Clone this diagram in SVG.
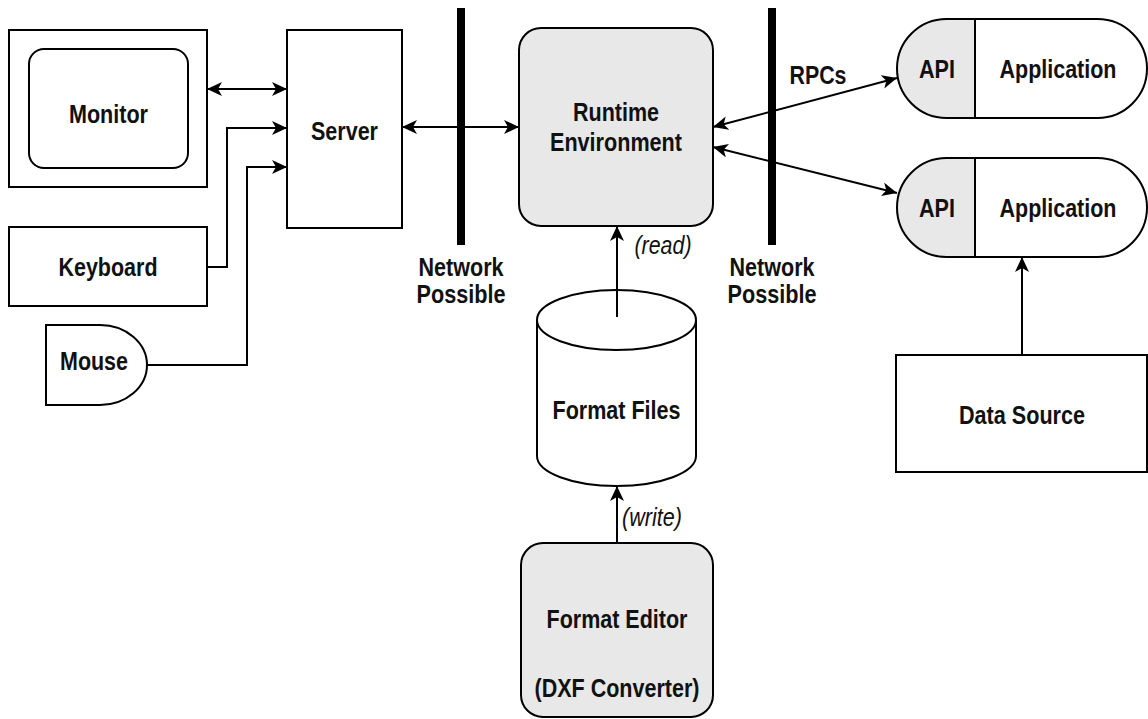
<svg xmlns="http://www.w3.org/2000/svg" width="1148" height="719" viewBox="0 0 1148 719">
<style>
.s{fill:none;stroke:#000;stroke-width:2}
.w{fill:#fff;stroke:#000;stroke-width:2}
.g{fill:#e8e8e8;stroke:#000;stroke-width:2}
.t{font-family:"Liberation Sans",Arial,sans-serif;font-weight:bold;font-size:25px;fill:#111;text-anchor:middle}
.i{font-family:"Liberation Sans",Arial,sans-serif;font-style:italic;font-size:25px;fill:#111;text-anchor:middle}
.c{fill:none;stroke:#000;stroke-width:2}
</style>
<defs>
<marker id="a" markerUnits="userSpaceOnUse" markerWidth="15" markerHeight="14" viewBox="0 0 15 14" refX="15" refY="7" orient="auto-start-reverse">
<path d="M0,0 L15,7 L0,14 L4,7 Z" fill="#000"/>
</marker>
</defs>
<rect width="1148" height="719" fill="#fff"/>

<g id="monitor">
<rect class="w" x="9" y="30" width="198" height="157"/>
<rect class="w" x="29" y="49" width="159" height="119" rx="15"/>
<text class="t" x="108.5" y="123" textLength="79" lengthAdjust="spacingAndGlyphs">Monitor</text>
</g>
<g id="server">
<rect class="w" x="287" y="30" width="115" height="198"/>
<text class="t" x="344.5" y="140" textLength="67" lengthAdjust="spacingAndGlyphs">Server</text>
</g>
<g id="keyboard">
<rect class="w" x="9" y="227" width="198" height="79"/>
<text class="t" x="108" y="276" textLength="99" lengthAdjust="spacingAndGlyphs">Keyboard</text>
</g>
<g id="mouse">
<path class="w" d="M46,325 H100 A47,40 0 0 1 100,405 H46 Z"/>
<text class="t" x="94" y="370" textLength="68" lengthAdjust="spacingAndGlyphs">Mouse</text>
</g>
<g id="network1">
<rect x="457" y="8" width="8" height="237" fill="#000"/>
<text class="t" x="461" y="276" textLength="85" lengthAdjust="spacingAndGlyphs">Network</text>
<text class="t" x="461" y="303" textLength="89" lengthAdjust="spacingAndGlyphs">Possible</text>
</g>
<g id="network2">
<rect x="768" y="8" width="8" height="237" fill="#000"/>
<text class="t" x="772" y="276" textLength="85" lengthAdjust="spacingAndGlyphs">Network</text>
<text class="t" x="772" y="303" textLength="89" lengthAdjust="spacingAndGlyphs">Possible</text>
</g>
<g id="runtime">
<rect class="g" x="519" y="28" width="194" height="198" rx="22"/>
<text class="t" x="616" y="121" textLength="86" lengthAdjust="spacingAndGlyphs">Runtime</text>
<text class="t" x="616" y="151" textLength="132" lengthAdjust="spacingAndGlyphs">Environment</text>
</g>
<g id="formatfiles">
<path class="w" d="M537,320 A79.5,30 0 0 1 696,320 V456 A79.5,30 0 0 1 537,456 Z"/>
<path class="s" d="M537,320 A79.5,30 0 0 0 696,320"/>
<text class="t" x="616.5" y="419" textLength="128" lengthAdjust="spacingAndGlyphs">Format Files</text>
</g>
<g id="formateditor">
<rect class="g" x="521" y="543" width="192" height="174" rx="22"/>
<text class="t" x="617" y="628" textLength="141" lengthAdjust="spacingAndGlyphs">Format Editor</text>
<text class="t" x="617" y="697" textLength="165" lengthAdjust="spacingAndGlyphs">(DXF Converter)</text>
</g>
<g id="app1">
<path class="g" d="M975,19 H946.5 A49.5,49.5 0 0 0 946.5,118 H975 Z"/>
<path class="w" d="M975,19 H1097.5 A49.5,49.5 0 0 1 1097.5,118 H975 Z"/>
<text class="t" x="937" y="78" textLength="36" lengthAdjust="spacingAndGlyphs">API</text>
<text class="t" x="1058" y="78" textLength="117" lengthAdjust="spacingAndGlyphs">Application</text>
</g>
<g id="app2">
<path class="g" d="M975,158 H946.5 A49.5,49.5 0 0 0 946.5,257 H975 Z"/>
<path class="w" d="M975,158 H1097.5 A49.5,49.5 0 0 1 1097.5,257 H975 Z"/>
<text class="t" x="937" y="217" textLength="36" lengthAdjust="spacingAndGlyphs">API</text>
<text class="t" x="1058" y="217" textLength="117" lengthAdjust="spacingAndGlyphs">Application</text>
</g>
<g id="datasource">
<rect class="w" x="896" y="355" width="251" height="117"/>
<text class="t" x="1022" y="424" textLength="126" lengthAdjust="spacingAndGlyphs">Data Source</text>
</g>

<g id="connectors">
<line class="c" x1="207" y1="89" x2="287" y2="89" marker-start="url(#a)" marker-end="url(#a)"/>
<polyline class="c" points="207,267 227,267 227,128 287,128" marker-end="url(#a)"/>
<polyline class="c" points="147,365 247,365 247,167 287,167" marker-end="url(#a)"/>
<line class="c" x1="402" y1="127" x2="519" y2="127" marker-start="url(#a)" marker-end="url(#a)"/>
<line class="c" x1="713" y1="127" x2="897" y2="78" marker-start="url(#a)" marker-end="url(#a)"/>
<line class="c" x1="713" y1="147" x2="897" y2="193" marker-start="url(#a)" marker-end="url(#a)"/>
<line class="c" x1="617" y1="317" x2="617" y2="226" marker-end="url(#a)"/>
<line class="c" x1="617" y1="543" x2="617" y2="486" marker-end="url(#a)"/>
<line class="c" x1="1022" y1="355" x2="1022" y2="257" marker-end="url(#a)"/>
<text class="t" x="818" y="84" textLength="57" lengthAdjust="spacingAndGlyphs">RPCs</text>
<text class="i" x="663" y="254" textLength="57" lengthAdjust="spacingAndGlyphs">(read)</text>
<text class="i" x="652" y="526" textLength="60" lengthAdjust="spacingAndGlyphs">(write)</text>
</g>
</svg>
